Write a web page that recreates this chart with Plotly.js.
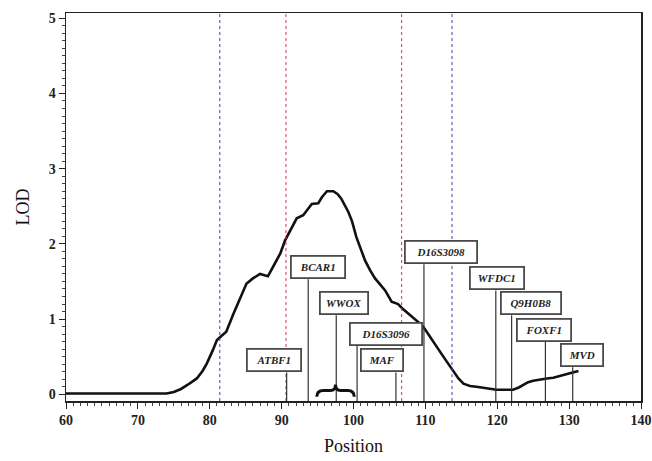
<!DOCTYPE html>
<html>
<head>
<meta charset="utf-8">
<script src="https://cdn.plot.ly/plotly-3.0.1.min.js"></script>
<style>html,body{margin:0;padding:0;background:#fff;}#chart{width:652px;height:461px;}</style>
</head>
<body>
<div id="chart"></div>
<script>
// LOD curve
var positions = [60,62,64,66,68,70,72,74,75,76,77,78.2,79,79.6,80.4,81.0,81.7,82.3,83.3,84.2,85.1,86.0,87.0,88.1,89.0,89.8,90.5,91.2,92.1,93.0,94.2,95.1,95.6,96.3,97.2,97.8,98.3,99.3,99.8,100.4,101.0,101.6,102.3,103.0,103.7,104.4,105.3,106.2,106.8,107.4,108.3,108.8,109.5,109.9,110.5,111.1,111.8,112.5,113.2,113.9,114.6,115.3,116.2,117.1,118.5,119.9,121.0,122.2,123.0,123.6,124.3,125.0,126.0,126.9,127.8,128.7,129.5,130.1,131.3];
var lodValues = [0.01,0.01,0.01,0.01,0.01,0.01,0.01,0.01,0.03,0.07,0.13,0.21,0.31,0.41,0.58,0.72,0.78,0.83,1.07,1.28,1.47,1.54,1.60,1.57,1.72,1.87,2.05,2.18,2.34,2.38,2.53,2.54,2.62,2.70,2.70,2.66,2.60,2.42,2.30,2.09,1.92,1.78,1.65,1.54,1.46,1.38,1.23,1.20,1.14,1.09,1.02,0.98,0.92,0.87,0.78,0.70,0.60,0.50,0.40,0.30,0.21,0.14,0.11,0.10,0.08,0.06,0.06,0.06,0.09,0.12,0.16,0.18,0.20,0.21,0.22,0.24,0.26,0.28,0.31];

// Gene markers
var geneNames = ["ATBF1","BCAR1","WWOX","D16S3096","MAF","D16S3098","WFDC1","Q9H0B8","FOXF1","MVD"];
var genePos   = [90.7, 93.7, 97.6, 100.5, 105.9, 109.8, 119.8, 122.0, 126.7, 130.5];
var labelBase = [0.29, 1.53, 1.05, 0.64, 0.29, 1.73, 1.38, 1.05, 0.70, 0.36];

// WWOX span (brace)
var braceSpan = [94.9, 100.1];

// Interval lines
var blueLines = [81.4, 113.7];
var redLines  = [90.6, 106.7];

// ticks
var xTickVals = [60,70,80,90,100,110,120,130,140];
var yTickVals = [0,1,2,3,4,5];

// label styling offsets (pixels)
var labelShift = [-13, 10, 8, 29, -14, 17, 1, 19, -1, 9];

var shapes = [];
blueLines.forEach(function(v){
  shapes.push({type:'line', xref:'x', yref:'paper', x0:v, x1:v, y0:0, y1:1,
    line:{color:'#3b3fb0', width:1, dash:'dot'}});
});
redLines.forEach(function(v){
  shapes.push({type:'line', xref:'x', yref:'paper', x0:v, x1:v, y0:0, y1:1,
    line:{color:'#d0334a', width:1, dash:'dot'}});
});
genePos.forEach(function(p, i){
  shapes.push({type:'line', xref:'x', yref:'y', x0:p, x1:p, y0:-0.09, y1:labelBase[i],
    line:{color:'#333', width:1.2}});
});
// brace path built from span
(function(){
  var a = braceSpan[0], b = braceSpan[1], m = (a+b)/2;
  var yb = -0.035, ym = 0.05, yt = 0.13;
  var d = 'M' + a + ',' + yb +
    ' Q' + a + ',' + ym + ' ' + (a+0.9) + ',' + ym +
    ' L' + (m-0.7) + ',' + ym +
    ' Q' + m + ',' + ym + ' ' + m + ',' + yt +
    ' Q' + m + ',' + ym + ' ' + (m+0.7) + ',' + ym +
    ' L' + (b-0.9) + ',' + ym +
    ' Q' + b + ',' + ym + ' ' + b + ',' + yb;
  shapes.push({type:'path', xref:'x', yref:'y', path:d, line:{color:'#111', width:3}});
})();

var annotations = geneNames.map(function(n, i){
  return {
    x: genePos[i], y: labelBase[i], xref:'x', yref:'y',
    xanchor:'center', yanchor:'bottom', xshift: labelShift[i],
    text: '<b><i>' + n + '</i></b>', showarrow:false,
    font:{family:'Liberation Serif, DejaVu Serif, serif', size:11, color:'#222'},
    bgcolor:'#fff', bordercolor:'#4a4a4a', borderwidth:1.8, borderpad:4,
    width: n.length*6 + 14
  };
});

var trace = {
  x: positions, y: lodValues, type:'scatter', mode:'lines',
  line:{color:'#111', width:2.6}, hoverinfo:'skip'
};

var axisFont = {family:'Liberation Serif, DejaVu Serif, serif', size:14, color:'#222', weight:'bold'};
var layout = {
  width:652, height:461,
  margin:{l:66, r:11, t:13, b:60},
  paper_bgcolor:'#fff', plot_bgcolor:'#fff',
  showlegend:false,
  xaxis:{
    range:[60,140], tickvals:xTickVals, ticktext:xTickVals.map(String),
    showgrid:false, zeroline:false, showline:true, mirror:true,
    linecolor:'#222', linewidth:1.5, ticks:'outside', ticklen:6, tickcolor:'#222',
    minor:{dtick:1, ticks:'outside', ticklen:3, tickcolor:'#444'},
    tickfont:axisFont,
    title:{text:'Position', font:{family:'Liberation Serif, DejaVu Serif, serif', size:18, color:'#111'}, standoff:12}
  },
  yaxis:{
    range:[-0.09, 5.07], tickvals:yTickVals, ticktext:yTickVals.map(String),
    showgrid:false, zeroline:false, showline:true, mirror:true,
    linecolor:'#222', linewidth:1.5, ticks:'outside', ticklen:6, tickcolor:'#222',
    minor:{dtick:0.1, ticks:'outside', ticklen:3, tickcolor:'#444'},
    tickfont:axisFont,
    title:{text:'LOD', font:{family:'Liberation Serif, DejaVu Serif, serif', size:18, color:'#111'}, standoff:14}
  },
  shapes: shapes,
  annotations: annotations
};

Plotly.newPlot('chart', [trace], layout, {staticPlot:true, displayModeBar:false});
</script>
</body>
</html>
